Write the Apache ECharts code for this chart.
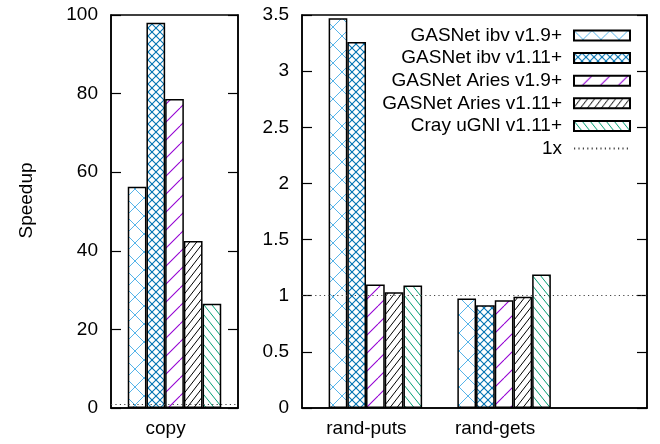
<!DOCTYPE html>
<html>
<head>
<meta charset="utf-8">
<script src="https://cdn.jsdelivr.net/npm/echarts@6/dist/echarts.min.js"></script>
<style>
  html, body { margin: 0; padding: 0; background: #fff; }
  #chart { width: 660px; height: 444px; }
</style>
</head>
<body>
<div id="chart"></div>
<script>
// data
const leftCats = ['copy']
const rightCats = ['rand-puts', 'rand-gets']
const seriesNames = ['GASNet ibv v1.9+', 'GASNet ibv v1.11+', 'GASNet Aries v1.9+', 'GASNet Aries v1.11+', 'Cray uGNI v1.11+']
const copySpeedup = [56.3, 98.0, 78.6, 42.5, 26.5]
const putsSpeedup = [3.47, 3.26, 1.10, 1.03, 1.09]
const getsSpeedup = [0.975, 0.915, 0.96, 0.99, 1.19]
const baseline = 1
const leftTicks = { min: 0, max: 100, interval: 20 }
const rightTicks = { min: 0, max: 3.5, interval: 0.5 }

// hatch fills, gnuplot style
function hatch(color, w, h, kind, lw) {
    const c = document.createElement('canvas')
    c.width = w
    c.height = h
    const g = c.getContext('2d')
    g.fillStyle = '#fff'
    g.fillRect(0, 0, w, h)
    g.strokeStyle = color
    g.lineWidth = lw
    const seg = (x1, y1, x2, y2) => { g.beginPath(); g.moveTo(x1, y1); g.lineTo(x2, y2); g.stroke() }
    for (const dx of [-w, 0, w]) {
        if (kind.includes('/')) seg(dx, h, dx + w, 0)
        if (kind.includes('\\')) seg(dx, 0, dx + w, h)
    }
    return { image: c, repeat: 'repeat' }
}

const fills = [
    hatch('#56b4e9', 18, 18, '/\\', 1),
    hatch('#0072b2', 8, 8, '/\\', 1.1),
    hatch('#9400d3', 18, 18, '/', 1.1),
    hatch('#000000', 7, 9, '/', 1),
    hatch('#009e73', 8, 10, '\\', 1)
]

const font = 'Liberation Sans, Arial, sans-serif'
const labelShift = -0.07
const barW = 18.7

function xAxisFor(idx, cats, min, max) {
    return {
        gridIndex: idx, type: 'value', min: min, max: max,
        axisLine: { show: true, onZero: false, lineStyle: { color: '#000', width: 1.5 } },
        axisTick: { show: false },
        splitLine: { show: false },
        axisLabel: {
            customValues: cats.map((c, i) => i + labelShift),
            formatter: v => cats[Math.round(v - labelShift)],
            fontSize: 19, fontFamily: font, color: '#000', margin: 11
        }
    }
}

function yAxisFor(idx, t, pos, labels) {
    return {
        gridIndex: idx, type: 'value', position: pos,
        min: t.min, max: t.max, interval: t.interval,
        axisLine: { show: true, onZero: false, lineStyle: { color: '#000', width: 1.5 } },
        axisTick: { show: true, inside: true, length: 10, lineStyle: { color: '#000', width: 1.2 } },
        splitLine: { show: false },
        axisLabel: { show: labels, fontSize: 19, fontFamily: font, color: '#000', margin: 13 }
    }
}

const series = []
seriesNames.forEach((name, i) => {
    const style = { color: fills[i], borderColor: '#000', borderWidth: 1.5 }
    series.push({
        name: name, type: 'bar', xAxisIndex: 0, yAxisIndex: 0,
        barWidth: barW, barGap: '0%', itemStyle: style,
        data: leftCats.map((c, j) => [j, copySpeedup[i]])
    })
    series.push({
        name: name, type: 'bar', xAxisIndex: 1, yAxisIndex: 2,
        barWidth: barW, barGap: '0%', itemStyle: style,
        data: [[0, putsSpeedup[i]], [1, getsSpeedup[i]]]
    })
})
const dotted = { type: [1.2, 3.2], color: '#444', width: 1.2 }
;[[0, 0], [1, 2]].forEach(([xi, yi]) => {
    series.push({
        name: '1x', type: 'line', xAxisIndex: xi, yAxisIndex: yi,
        symbol: 'none', data: [], lineStyle: dotted,
        itemStyle: { color: 'rgba(0,0,0,0)' },
        markLine: {
            silent: true, symbol: ['none', 'none'], label: { show: false },
            lineStyle: dotted, data: [{ yAxis: baseline }]
        }
    })
})

const chart = echarts.init(document.getElementById('chart'), null, { renderer: 'canvas' })
chart.setOption({
    animation: false,
    backgroundColor: '#fff',
    textStyle: { fontFamily: font },
    grid: [
        { left: 111, top: 15, width: 127, height: 393, show: true, borderColor: '#000', borderWidth: 1.5 },
        { left: 302, top: 15, width: 345, height: 393, show: true, borderColor: '#000', borderWidth: 1.5 }
    ],
    legend: {
        orient: 'vertical', align: 'right', right: 24, top: 21,
        itemWidth: 56, itemHeight: 10, itemGap: 3.6,
        textStyle: { fontSize: 19, fontFamily: font, color: '#000', lineHeight: 19, padding: [0, 7, 0, 0] },
        data: seriesNames.map(n => ({ name: n, icon: 'rect' })).concat([{ name: '1x' }])
    },
    xAxis: [
        xAxisFor(0, leftCats, -0.5, 0.5),
        xAxisFor(1, rightCats, -0.57, 2.11)
    ],
    yAxis: [
        Object.assign(yAxisFor(0, leftTicks, 'left', true), {
            name: 'Speedup', nameLocation: 'middle', nameRotate: 90, nameGap: 75,
            nameTextStyle: { fontSize: 19, fontFamily: font, color: '#000', padding: [0, 0, 0, 22] }
        }),
        yAxisFor(0, leftTicks, 'right', false),
        yAxisFor(1, rightTicks, 'left', true),
        yAxisFor(1, rightTicks, 'right', false)
    ],
    series: series
})
</script>
</body>
</html>
